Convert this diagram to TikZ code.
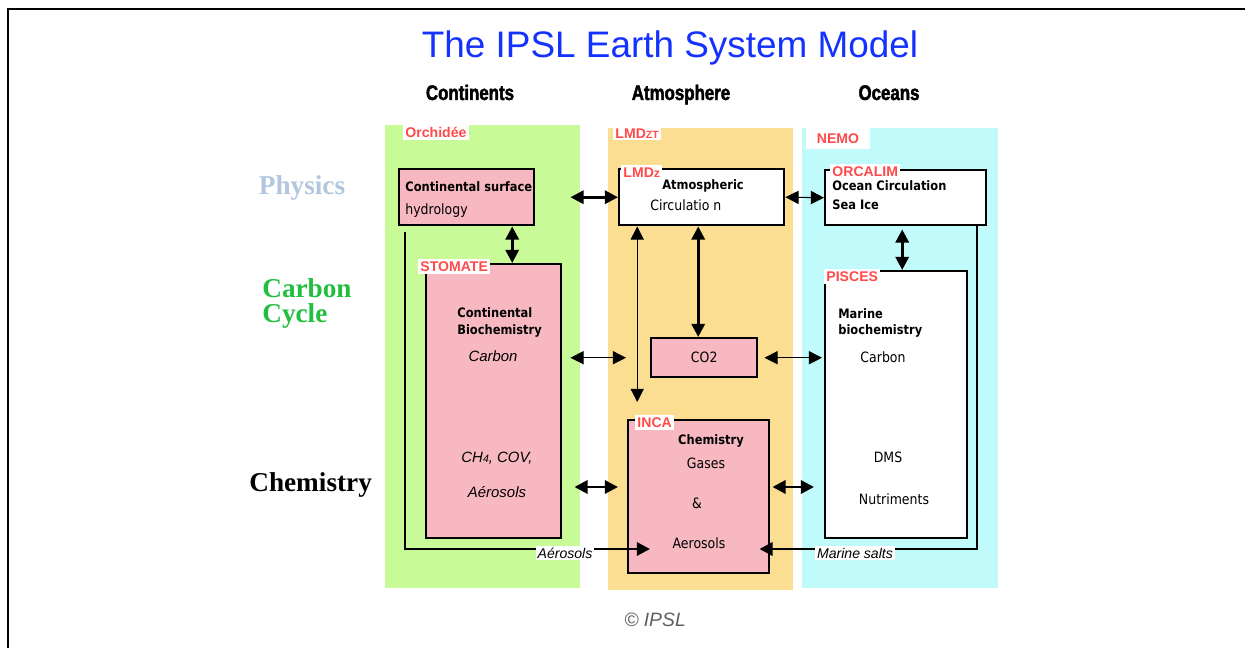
\documentclass[tikz,border=0pt]{standalone}
\usepackage{fontspec}
\setmainfont{Liberation Sans}
\newfontfamily\rowfont{Liberation Serif}
\newfontfamily\headfont[FakeStretch=0.8,FakeBold=2]{Liberation Sans}
\newfontfamily\boxfont[FakeStretch=0.88]{DejaVu Sans}
\usetikzlibrary{arrows.meta}
\definecolor{landgreen}{RGB}{200,250,152}
\definecolor{airsand}{RGB}{251,222,146}
\definecolor{seacyan}{RGB}{192,250,250}
\definecolor{boxpink}{RGB}{247,184,194}
\definecolor{tagred}{RGB}{255,74,74}
\definecolor{titleblue}{RGB}{20,50,255}
\definecolor{physblue}{RGB}{178,198,222}
\definecolor{carbgreen}{RGB}{34,190,64}
\definecolor{copygray}{RGB}{95,95,95}
\begin{document}
\begin{tikzpicture}[x=0.02cm,y=-0.02cm,>={Triangle[length=7.5pt,width=7.5pt]},
  box/.style={draw,line width=1.4pt,inner sep=0pt,anchor=north west},
  tag/.style={fill=white,text=tagred,font=\fontsize{8}{8}\selectfont\bfseries,inner sep=1.2pt,anchor=north west},
  btxt/.style={font=\boxfont\fontsize{7.4}{9}\selectfont\bfseries,inner sep=0pt},
  rtxt/.style={font=\boxfont\fontsize{8.1}{9}\selectfont,inner sep=0pt},
  itxt/.style={font=\fontsize{8.5}{10}\selectfont\itshape,inner sep=0pt},
  rowlab/.style={font=\rowfont\fontsize{15.5}{17}\selectfont\bfseries,inner sep=0pt},
  colhead/.style={font=\headfont\fontsize{12}{14}\selectfont\bfseries,inner sep=0pt,anchor=base},
  thk/.style={line width=1.6pt},
  thn/.style={line width=0.6pt}]
\useasboundingbox (0,0) rectangle (1245,648);
\draw[line width=1.2pt] (8,648) -- (8,9) -- (1245,9);
% title and column heads
\node[text=titleblue,font=\fontsize{21}{24}\selectfont,inner sep=0pt] (title) at (670,48) {The IPSL Earth System Model};
\node[colhead] (conthead) at (470,100) {Continents};
\node[colhead] (atmhead) at (681,100) {Atmosphere};
\node[colhead] (oceanhead) at (889,100) {Oceans};
% row labels
\node[rowlab,text=physblue] (physlab) at (302,188) {Physics};
\node[rowlab,text=carbgreen,anchor=west] (carblab) at (262,288) {Carbon};
\node[rowlab,text=carbgreen,anchor=west] (cyclab) at (262,316) {Cycle};
\node[rowlab,anchor=west] (chemlab) at (249,485) {Chemistry};
% the three domains
\fill[landgreen] (385,125) rectangle (580,588);
\fill[airsand] (608,128) rectangle (793,590);
\fill[seacyan] (802,128) rectangle (998,588);
\node[tag] (orchtag) at (403,125) {Orchidée};
\node[tag] (lmdzttag) at (613,126) {LMD{\fontsize{6}{6}\selectfont ZT}};
\node[tag,inner xsep=6pt,inner ysep=3pt] (nemotag) at (806,128) {NEMO};
% component boxes
\node[box,fill=boxpink,minimum width=2.7cm,minimum height=1.12cm] (surf) at (398,168) {};
\node[box,fill=white,minimum width=3.3cm,minimum height=1.12cm] (atm) at (618,168) {};
\node[box,fill=white,minimum width=3.22cm,minimum height=1.1cm] (ocean) at (824,169) {};
\node[box,fill=boxpink,minimum width=2.7cm,minimum height=5.48cm] (stom) at (425,263) {};
\node[box,fill=boxpink,minimum width=2.12cm,minimum height=0.78cm] (co2) at (650,337) {};
\node[box,fill=boxpink,minimum width=2.82cm,minimum height=3.06cm] (inca) at (627,419) {};
\node[box,fill=white,minimum width=2.84cm,minimum height=5.34cm] (pisc) at (824,270) {};
\node[tag] (lmdztag) at (621,165) {LMD{\fontsize{7}{7}\selectfont z}};
\node[tag] (orcatag) at (830,164) {ORCALIM};
\node[tag] (stomtag) at (418,259) {STOMATE};
\node[tag] (pisctag) at (824,269) {PISCES};
\node[tag] (incatag) at (635,415) {INCA};
% box texts
\node[btxt,anchor=west] (surft1) at (405,187) {Continental surface};
\node[rtxt,anchor=west] (surft2) at (405,211) {hydrology};
\node[btxt,anchor=west] (atmt1) at (662,186) {Atmospheric};
\node[rtxt,anchor=west] (atmt2) at (650,205) {Circulatio n};
\node[btxt,anchor=west] (oceant1) at (832,186) {Ocean Circulation};
\node[btxt,anchor=west] (oceant2) at (832,205) {Sea Ice};
\node[btxt,anchor=west] (stomt1) at (457,313) {Continental};
\node[btxt,anchor=west] (stomt2) at (457,331) {Biochemistry};
\node[itxt] (stomt3) at (493,356) {Carbon};
\node[itxt] (stomt4) at (497,458) {CH{\fontsize{6}{6}\selectfont 4}, COV,};
\node[itxt] (stomt5) at (497,492) {Aérosols};
\node[rtxt] (co2t) at (co2.center) {CO2};
\node[btxt] (incat1) at (711,441) {Chemistry};
\node[rtxt] (incat2) at (706,463) {Gases};
\node[rtxt] (incat3) at (697,503) {\&};
\node[rtxt] (incat4) at (699,543) {Aerosols};
\node[btxt,anchor=west] (pisct1) at (838,314) {Marine};
\node[btxt,anchor=west] (pisct2) at (838,331) {biochemistry};
\node[rtxt] (pisct3) at (883,357) {Carbon};
\node[rtxt] (pisct4) at (888,457) {DMS};
\node[rtxt] (pisct5) at (894,499) {Nutriments};
% exchanges
\coordinate (chemrow) at (0,487);
\coordinate (aerorow) at (0,549);
\coordinate (aerostart) at (405,232);
\coordinate (saltstart) at (977,225);
\draw[thk,<->,shorten <=0.7cm] (surf.east) -- (atm.west);
\draw[thn,<->] (atm.east) -- (ocean.west);
\draw[thk,<->] ([xshift=0.91cm]surf.south) -- ([xshift=0.91cm]surf.south |- stom.north);
\draw[thn,<->,shorten >=0.34cm] ([xshift=-1.29cm]atm.south) -- ([xshift=-1.29cm]atm.south |- inca.north);
\draw[thk,<->] ([xshift=-0.12cm]co2.north |- atm.south) -- ([xshift=-0.12cm]co2.north);
\draw[thn,<->,shorten <=0.16cm,shorten >=0.48cm] (stom.east |- co2.west) -- (co2.west);
\draw[thn,<->,shorten <=0.12cm,shorten >=0.04cm] (co2.east) -- (co2.east -| pisc.west);
\draw[thk,<->,shorten <=0.24cm,shorten >=0.18cm] (stom.east |- chemrow) -- (inca.west |- chemrow);
\draw[thk,<->,shorten <=0.04cm,shorten >=0.2cm] (inca.east |- chemrow) -- (pisc.west |- chemrow);
\draw[thk,<->,shorten <=0.06cm] ([xshift=-0.07cm]ocean.south) -- ([xshift=-0.07cm]ocean.south |- pisc.north);
\draw[thk,->] (aerostart) |- ([xshift=0.46cm]inca.west |- aerorow);
\draw[thk,->] (saltstart) |- ([xshift=-0.22cm]inca.east |- aerorow);
\node[itxt,fill=white,inner sep=1pt,font=\fontsize{8}{10}\selectfont\itshape] (aerolab) at (565,553) {Aérosols};
\node[itxt,fill=white,inner sep=1pt,font=\fontsize{8}{10}\selectfont\itshape] (saltlab) at (855,553) {Marine salts};
\node[text=copygray,font=\fontsize{11}{13}\selectfont\itshape,inner sep=0pt] (copy) at (655,620) {© IPSL};
\end{tikzpicture}
\end{document}
